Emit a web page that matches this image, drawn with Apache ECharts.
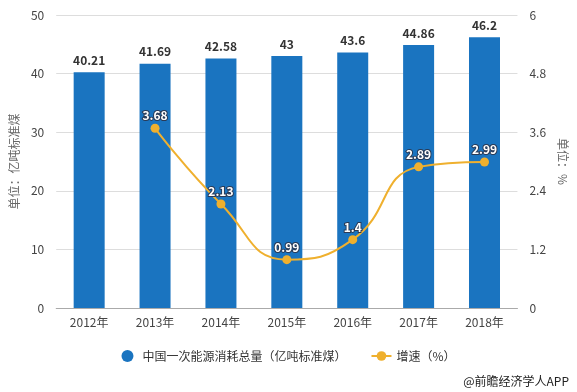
<!DOCTYPE html>
<html><head><meta charset="utf-8">
<script src="https://cdn.jsdelivr.net/npm/echarts@6/dist/echarts.min.js"></script>
<style>html,body{margin:0;padding:0;background:#fff}#c{width:577px;height:392px}</style>
</head><body><div id="c"></div>
<script>
var categories = ['2012年','2013年','2014年','2015年','2016年','2017年','2018年'];
var consumption = [40.21, 41.69, 42.58, 43, 43.6, 44.86, 46.2];
var growth = [null, 3.68, 2.13, 0.99, 1.4, 2.89, 2.99];
var barName = '中国一次能源消耗总量（亿吨标准煤）';
var lineName = '增速（%）';
var font = '"Microsoft YaHei","Noto Sans CJK SC",sans-serif';
var chart = echarts.init(document.getElementById('c'));
chart.setOption({
  animation: false,
  textStyle: {fontFamily: font},
  grid: {left: 56, right: 59, top: 15, bottom: 84},
  legend: {
    bottom: 25, left: 'center', itemGap: 24, itemWidth: 20, itemHeight: 12,
    textStyle: {fontSize: 12, color: '#333', fontFamily: font},
    data: [{name: barName, icon: 'circle'}, {name: lineName}]
  },
  graphic: [{type: 'text', right: 8, bottom: 5, style: {text: '@前瞻经济学人APP', fontSize: 12, fill: '#222', fontFamily: font}}],
  xAxis: {
    type: 'category', data: categories,
    axisLine: {lineStyle: {color: '#aaa'}},
    axisTick: {alignWithLabel: true, lineStyle: {color: '#aaa'}},
    axisLabel: {color: '#444', fontSize: 12, margin: 8}
  },
  yAxis: [{
    type: 'value', min: 0, max: 50, interval: 10,
    name: '单位：亿吨标准煤', nameLocation: 'middle', nameGap: 36, nameRotate: 90,
    nameTextStyle: {color: '#666', fontSize: 12},
    axisLine: {show: false}, axisTick: {show: false},
    axisLabel: {color: '#444', fontSize: 12, margin: 12},
    splitLine: {lineStyle: {color: '#ddd'}}
  }, {
    type: 'value', min: 0, max: 6, interval: 1.2,
    name: '单位：%', nameLocation: 'middle', nameGap: 36, nameRotate: -90,
    nameTextStyle: {color: '#666', fontSize: 12},
    axisLine: {show: false}, axisTick: {show: false},
    axisLabel: {color: '#444', fontSize: 12, margin: 12},
    splitLine: {show: false}
  }],
  series: [{
    name: barName, type: 'bar', data: consumption, barWidth: 31,
    itemStyle: {color: '#1a74c0'},
    label: {show: true, position: 'top', color: '#333', fontWeight: 'bold', fontSize: 12, distance: 6}
  }, {
    name: lineName, type: 'line', yAxisIndex: 1, data: growth, smooth: true,
    symbol: 'circle', symbolSize: 9,
    lineStyle: {color: '#efb02e', width: 2},
    itemStyle: {color: '#efb02e'},
    label: {show: true, position: 'top', color: '#fff', fontWeight: 'bold', fontSize: 12,
      textBorderColor: '#2a3a55', textBorderWidth: 2, distance: 2}
  }]
});
</script></body></html>
